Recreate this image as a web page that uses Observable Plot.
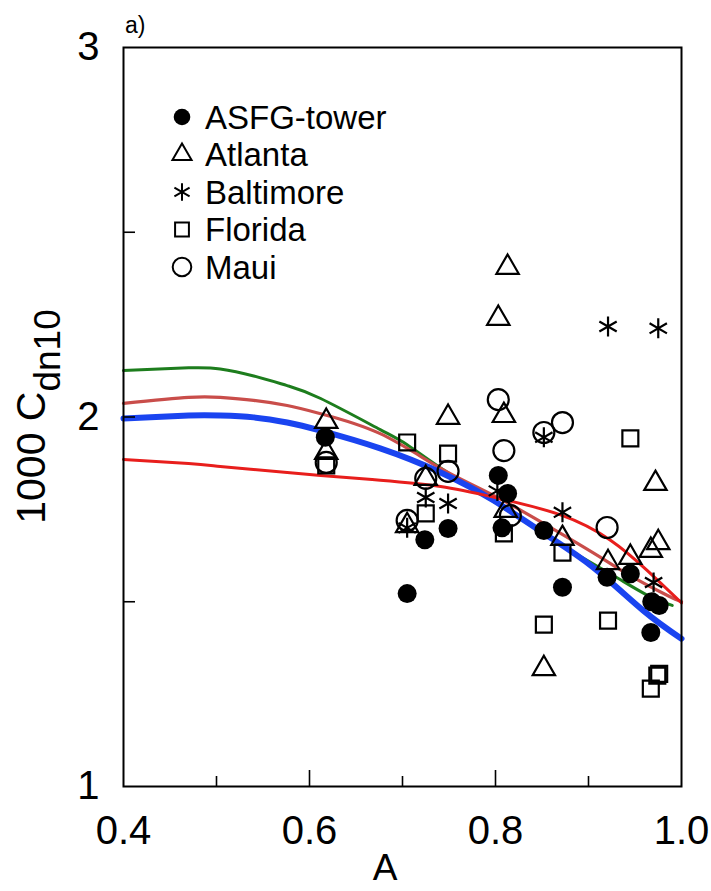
<!DOCTYPE html>
<html>
<head>
<meta charset="utf-8">
<script src="https://cdn.jsdelivr.net/npm/d3@7"></script>
<script src="https://cdn.jsdelivr.net/npm/@observablehq/plot@0.6"></script>
<style>
  body { margin: 0; background: #fff; }
  #chart { width: 711px; height: 891px; }
</style>
</head>
<body>
<div id="chart"></div>
<script>
// Observations: A (x) and 1000·Cdn10 (y) for each site
const asfgA = [0.617, 0.724, 0.749, 0.705, 0.803, 0.813, 0.807, 0.852, 0.872, 0.920, 0.945, 0.968, 0.976, 0.967];
const asfgC = [1.945, 1.668, 1.698, 1.522, 1.842, 1.793, 1.700, 1.693, 1.539, 1.566, 1.576, 1.500, 1.490, 1.417];

const atlantaA = [0.618, 0.618, 0.749, 0.725, 0.705, 0.813, 0.803, 0.809, 0.811, 0.852, 0.872, 0.921, 0.945, 0.967, 0.975, 0.972];
const atlantaC = [1.988, 1.904, 1.999, 1.834, 1.706, 2.405, 2.267, 2.004, 1.747, 1.319, 1.671, 1.606, 1.620, 1.639, 1.660, 1.820];

const baltimoreA = [0.921, 0.975, 0.852, 0.725, 0.749, 0.705, 0.872, 0.970, 0.802];
const baltimoreC = [2.245, 2.240, 1.945, 1.782, 1.766, 1.700, 1.742, 1.552, 1.800];

const floridaA = [0.618, 0.705, 0.749, 0.725, 0.809, 0.872, 0.852, 0.921, 0.945, 0.974, 0.967, 0.976];
const floridaC = [1.869, 1.931, 1.901, 1.739, 1.685, 1.633, 1.438, 1.449, 1.942, 1.300, 1.265, 1.305];

const mauiA = [0.618, 0.725, 0.749, 0.705, 0.803, 0.809, 0.852, 0.872, 0.920, 0.816];
const mauiC = [1.877, 1.834, 1.853, 1.720, 2.047, 1.909, 1.958, 1.985, 1.701, 1.733];

// Fitted curves, sampled along A
const greenA = [0.400, 0.470, 0.504, 0.540, 0.576, 0.612, 0.676, 0.705, 0.741, 0.800, 0.870, 0.924, 0.963, 0.990];
const greenC = [2.126, 2.133, 2.130, 2.111, 2.085, 2.050, 1.966, 1.925, 1.862, 1.768, 1.655, 1.575, 1.518, 1.490];

const brownA = [0.400, 0.470, 0.504, 0.540, 0.576, 0.612, 0.676, 0.741, 0.800, 0.870, 0.913, 0.948, 0.985, 1.000];
const brownC = [2.037, 2.053, 2.053, 2.045, 2.031, 2.009, 1.955, 1.861, 1.785, 1.685, 1.620, 1.566, 1.517, 1.500];

const blueA = [0.400, 0.470, 0.504, 0.540, 0.576, 0.612, 0.676, 0.741, 0.798, 0.852, 0.905, 0.959, 1.000];
const blueC = [1.996, 2.004, 2.004, 1.999, 1.985, 1.963, 1.915, 1.850, 1.774, 1.685, 1.593, 1.476, 1.400];

const redA = [0.400, 0.470, 0.504, 0.540, 0.576, 0.612, 0.676, 0.741, 0.800, 0.870, 0.924, 0.963, 1.000];
const redC = [1.885, 1.874, 1.866, 1.858, 1.850, 1.842, 1.829, 1.812, 1.782, 1.735, 1.666, 1.585, 1.497];

// Axis ticks
const xTickLabels = [0.4, 0.6, 0.8, 1.0];
const xMajorTicks = [0.6, 0.8];
const xMinorTicks = [0.5, 0.7, 0.9];
const yTickLabels = [1, 2, 3];
const yTicks = [1.5, 2, 2.5];

const seriesNames = ["ASFG-tower", "Atlanta", "Baltimore", "Florida", "Maui"];

const series = [
  {name: seriesNames[0], A: asfgA, C: asfgC, symbol: "circle", fill: "black", stroke: "none", r: 9.5},
  {name: seriesNames[1], A: atlantaA, C: atlantaC, symbol: "triangle", fill: "none", stroke: "black", r: 8.3},
  {name: seriesNames[2], A: baltimoreA, C: baltimoreC, symbol: "asterisk", fill: "none", stroke: "black", r: 9.5},
  {name: seriesNames[3], A: floridaA, C: floridaC, symbol: "square", fill: "none", stroke: "black", r: 9},
  {name: seriesNames[4], A: mauiA, C: mauiC, symbol: "circle", fill: "none", stroke: "black", r: 10.5}
];

const curves = [
  {A: greenA, C: greenC, color: "#1d7d1d", width: 3},
  {A: brownA, C: brownC, color: "#c94d4a", width: 3.2},
  {A: blueA, C: blueC, color: "#1a44f0", width: 6},
  {A: redA, C: redC, color: "#e81e1c", width: 3}
];

const toRows = (A, C) => A.map((a, i) => ({A: a, C: C[i]}));

const W = 711, H = 891;
const mL = 123, mR = 30, mT = 47, mB = 105;
const innerW = W - mL - mR, innerH = H - mT - mB;
const FONT = "'Liberation Sans', Arial, Helvetica, sans-serif";

const plot = Plot.plot({
  width: W,
  height: H,
  marginLeft: mL,
  marginRight: mR,
  marginTop: mT,
  marginBottom: mB,
  style: {background: "white", color: "black", overflow: "visible", fontFamily: FONT},
  x: {domain: [0.4, 1.0]},
  y: {domain: [1, 3]},
  marks: [
    ...curves.map(c => Plot.line(toRows(c.A, c.C), {
      x: "A", y: "C", stroke: c.color, strokeWidth: c.width, curve: "natural"
    })),
    ...series.map(s => Plot.dot(toRows(s.A, s.C), {
      x: "A", y: "C", symbol: s.symbol, r: s.r,
      fill: s.fill, stroke: s.stroke, strokeWidth: 2.2
    })),
    // inward tick marks
    Plot.ruleX(xMajorTicks, {x: d => d, insetTop: innerH - 16, strokeWidth: 1.6}),
    Plot.ruleX(xMinorTicks, {x: d => d, insetTop: innerH - 10, strokeWidth: 1.6}),
    Plot.ruleY(yTicks, {y: d => d, insetRight: innerW - 12, strokeWidth: 1.6}),
    Plot.frame({stroke: "black", strokeWidth: 2}),
    Plot.axisX(xTickLabels, {tickSize: 0, tickPadding: 29, fontSize: 40, tickFormat: d => d.toFixed(1), label: null}),
    Plot.axisY(yTickLabels, {tickSize: 0, tickPadding: 24, fontSize: 40, tickFormat: d => String(d), label: null})
  ]
});

document.getElementById("chart").appendChild(plot);

const svg = d3.select(plot);

// panel tag
svg.append("text")
  .attr("x", 125).attr("y", 33)
  .attr("text-anchor", "start")
  .attr("font-size", 23)
  .text("a)");

// x-axis title
svg.append("text")
  .attr("x", 385).attr("y", 880)
  .attr("text-anchor", "middle")
  .attr("font-size", 37)
  .text("A");

// y-axis title with subscript
const yl = svg.append("text")
  .attr("transform", `translate(45,${mT + innerH / 2}) rotate(-90)`)
  .attr("text-anchor", "middle")
  .attr("font-size", 41);
yl.append("tspan").text("1000 C");
yl.append("tspan").attr("font-size", 37).attr("dy", 15).text("dn10");

// legend
const legend = svg.append("g");
const symbolTypes = {circle: d3.symbolCircle, triangle: d3.symbolTriangle, asterisk: d3.symbolAsterisk, square: d3.symbolSquare};
series.forEach((s, i) => {
  const y = 117 + i * 37.5;
  const r = s.r - 1.2;
  legend.append("path")
    .attr("transform", `translate(182,${y})`)
    .attr("d", d3.symbol(symbolTypes[s.symbol], Math.PI * r * r)())
    .attr("fill", s.fill)
    .attr("stroke", s.stroke)
    .attr("stroke-width", 2);
  legend.append("text")
    .attr("x", 205).attr("y", y)
    .attr("dy", "0.36em")
    .attr("text-anchor", "start")
    .attr("font-size", 33)
    .text(s.name);
});
</script>
</body>
</html>
